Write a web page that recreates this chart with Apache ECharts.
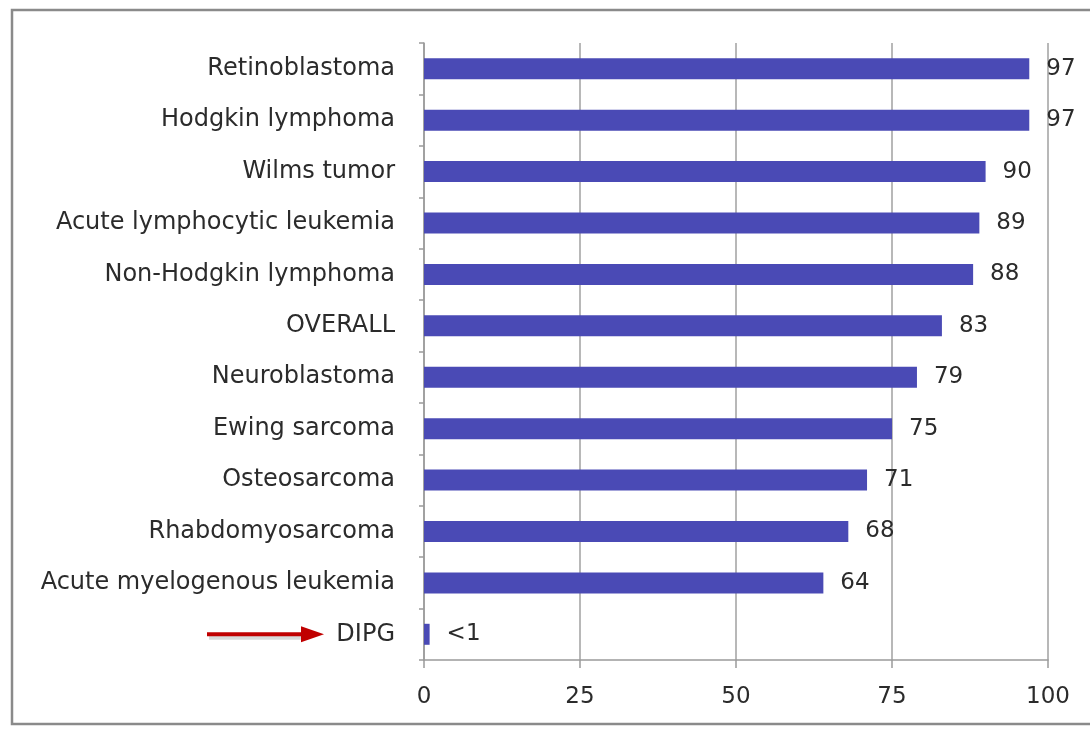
<!DOCTYPE html>
<html>
<head>
<meta charset="utf-8">
<script src="https://cdn.jsdelivr.net/npm/echarts@6/dist/echarts.min.js"></script>
<style>
  html, body { margin: 0; padding: 0; background: #fff; }
  #chart { width: 1090px; height: 732px; }
</style>
</head>
<body>
<div id="chart"></div>
<script>
// Five-year survival (%) by childhood cancer type
const categories = [
  'Retinoblastoma', 'Hodgkin lymphoma', 'Wilms tumor', 'Acute lymphocytic leukemia',
  'Non-Hodgkin lymphoma', 'OVERALL', 'Neuroblastoma', 'Ewing sarcoma',
  'Osteosarcoma', 'Rhabdomyosarcoma', 'Acute myelogenous leukemia', 'DIPG'
];
const survival = [97, 97, 90, 89, 88, 83, 79, 75, 71, 68, 64, 0.9];
const valueLabels = ['97', '97', '90', '89', '88', '83', '79', '75', '71', '68', '64', '<1'];
const xTicks = [0, 25, 50, 75, 100];

const FONT = '"DejaVu Sans", "Open Sans", sans-serif';
const TEXT = '#2b2b2b';
const chart = echarts.init(document.getElementById('chart'), null, { renderer: 'canvas' });

chart.setOption({
  animation: false,
  backgroundColor: '#fff',
  grid: { left: 424, right: 42, top: 43, bottom: 72 },
  xAxis: {
    type: 'value',
    min: xTicks[0],
    max: xTicks[xTicks.length - 1],
    interval: xTicks[1] - xTicks[0],
    axisLine: { show: true, lineStyle: { color: '#9a9a9a', width: 1.5 } },
    axisTick: { show: true, length: 8, lineStyle: { color: '#9a9a9a', width: 1.5 } },
    splitLine: { show: true, lineStyle: { color: '#a0a0a0', width: 1.5 } },
    axisLabel: { color: TEXT, fontFamily: FONT, fontSize: 23, margin: 26 }
  },
  yAxis: {
    type: 'category',
    data: categories,
    inverse: true,
    axisLine: { show: true, lineStyle: { color: '#9a9a9a', width: 1.5 } },
    axisTick: { show: true, length: 5, lineStyle: { color: '#9a9a9a', width: 1.5 } },
    axisLabel: { color: TEXT, fontFamily: FONT, fontSize: 24, margin: 29 }
  },
  series: [{
    type: 'bar',
    data: survival,
    barWidth: 21,
    itemStyle: { color: '#4a4ab5' },
    label: {
      show: true,
      position: 'right',
      distance: 17,
      color: TEXT,
      fontFamily: FONT,
      fontSize: 23,
      formatter: p => valueLabels[p.dataIndex]
    }
  }]
});

// Frame around the chart and the red pointer to the DIPG row
const dipgY = chart.convertToPixel({ yAxisIndex: 0 }, 'DIPG');
chart.setOption({
  graphic: [
    {
      type: 'rect',
      shape: { x: 12, y: 10, width: 1090, height: 714 },
      style: { fill: 'none', stroke: '#8a8a8a', lineWidth: 2.5 },
      silent: true
    },
    {
      type: 'group',
      silent: true,
      children: [
        {
          type: 'line',
          shape: { x1: 209, y1: dipgY + 3, x2: 304, y2: dipgY + 3 },
          style: { stroke: 'rgba(0,0,0,0.15)', lineWidth: 5 }
        },
        {
          type: 'line',
          shape: { x1: 207, y1: dipgY, x2: 304, y2: dipgY },
          style: { stroke: '#c00000', lineWidth: 4 }
        },
        {
          type: 'polygon',
          shape: { points: [[301, dipgY - 8], [324, dipgY], [301, dipgY + 8]] },
          style: { fill: '#c00000' }
        }
      ]
    }
  ]
});
</script>
</body>
</html>
